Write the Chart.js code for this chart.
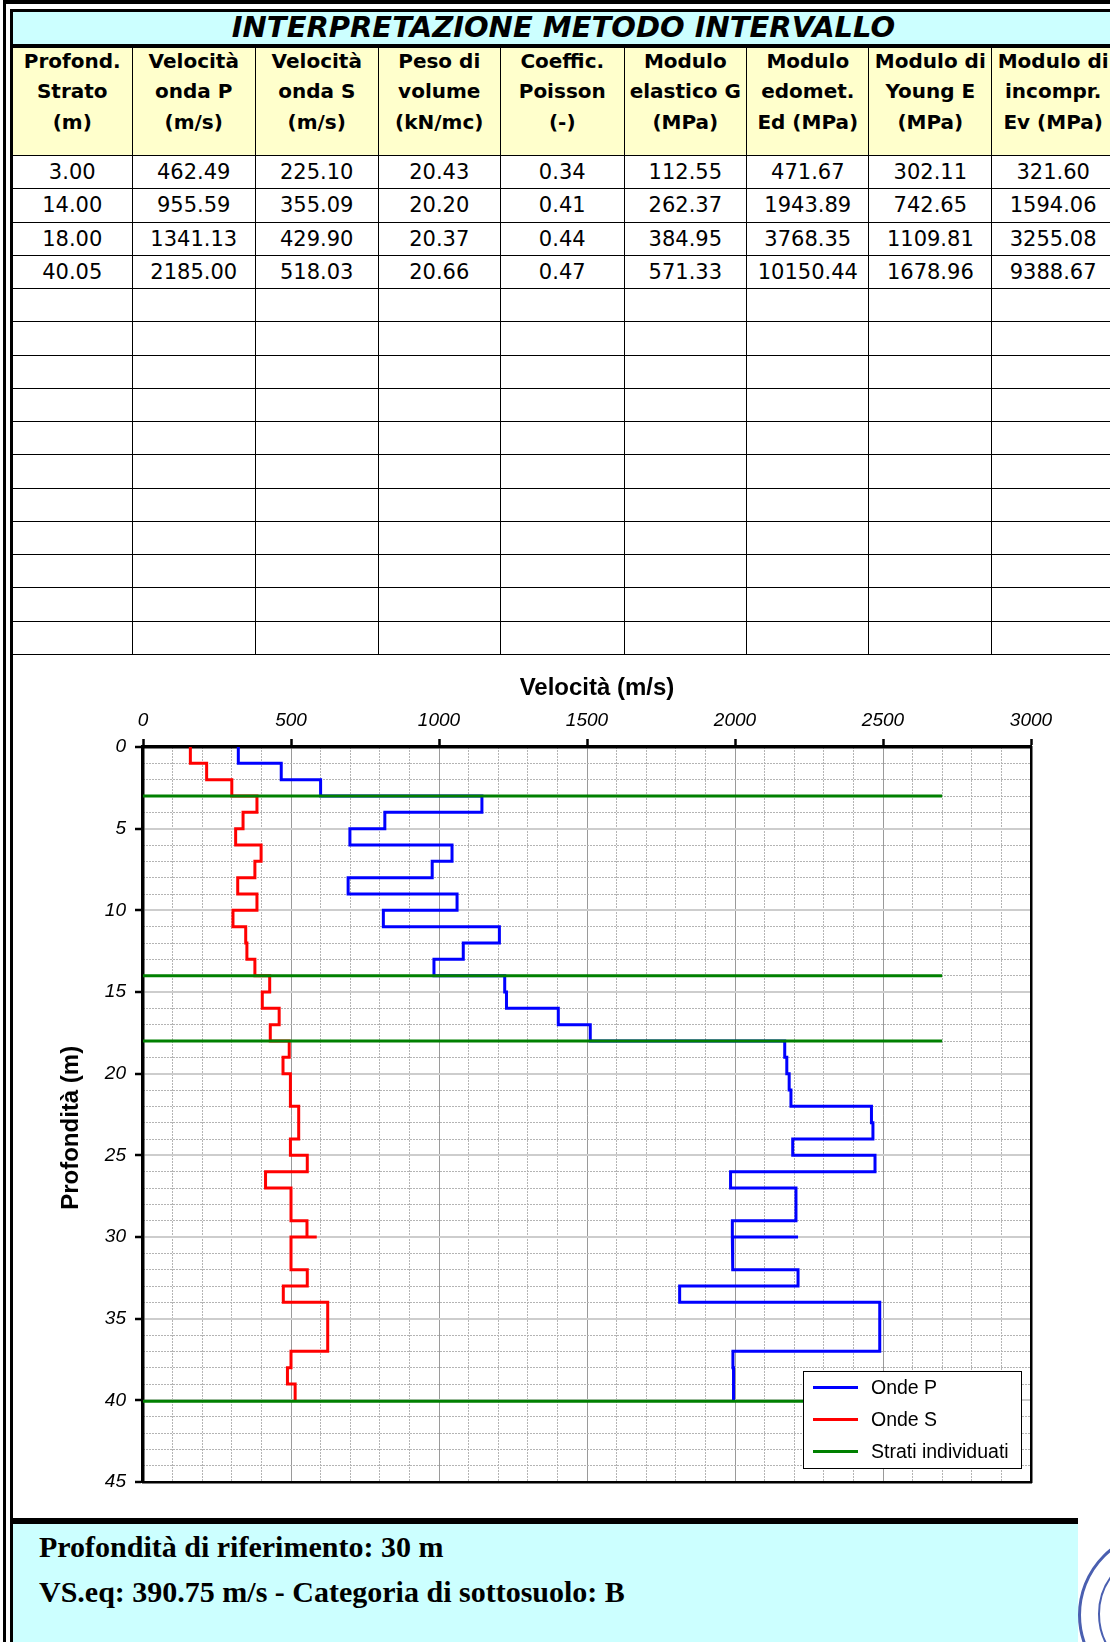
<!DOCTYPE html>
<html>
<head>
<meta charset="utf-8">
<script src="https://cdn.jsdelivr.net/npm/chart.js@4.4.1/dist/chart.umd.min.js"></script>
<style>
html, body { margin: 0; padding: 0; background: #fff; }
body { width: 1110px; height: 1642px; overflow: hidden; position: relative; font-family: "DejaVu Sans", Verdana, sans-serif; }
.frame1 { position: absolute; left: 3px; top: 0; width: 1300px; height: 1800px; border-left: 3px solid #000; border-top: 4px solid #000; }
.frame2 { position: absolute; left: 10px; top: 9px; width: 1300px; height: 1800px; border-left: 3px solid #000; border-top: 3px solid #000; }
#title { position: absolute; left: 13px; top: 12px; width: 1101px; height: 32px; background: #ccffff; border-bottom: 4px solid #000;
  text-align: center; font: italic bold 29px "DejaVu Sans"; line-height: 30px; }
#tab { position: absolute; left: 13px; top: 48px; border-collapse: collapse; table-layout: fixed; }
#tab th, #tab td { border: 1.5px solid #000; padding: 0; text-align: center; white-space: nowrap; overflow: hidden; }
#tab th { background: #ffffcc; font: bold 20px/30.4px "DejaVu Sans"; height: 107px; vertical-align: top; border-top: none; }
#tab th div { position: relative; top: -2px; }
#tab td { font: 21px "DejaVu Sans"; height: 32.25px; }
#tab th:first-child, #tab td:first-child { border-left: none; }
#chartBox { position: absolute; left: 13px; top: 656px; width: 1097px; height: 862px; }
#band { position: absolute; left: 13px; top: 1518px; width: 1065px; height: 6px; background: #000; }
#info { position: absolute; left: 13px; top: 1524px; width: 1065px; height: 130px; background: #ccffff;
  font: bold 30px/45px "Liberation Serif", serif; padding-left: 26px; box-sizing: border-box; }
.stamp { position: absolute; border-radius: 50%; border: 3px solid #4a5fb0; }
</style>
</head>
<body>
<div class="frame1"></div>
<div class="frame2"></div>
<div id="title">INTERPRETAZIONE METODO INTERVALLO</div>
<table id="tab"></table>
<div id="chartBox"><canvas id="chart" width="1097" height="862"></canvas></div>
<div id="band"></div>
<div id="info">Profondità di riferimento: 30 m<br>VS.eq: 390.75 m/s - Categoria di sottosuolo: B</div>
<div class="stamp" style="left:1078px;top:1530px;width:164px;height:164px;"></div>
<div class="stamp" style="left:1098px;top:1550px;width:124px;height:124px;border-width:2px;"></div>
<script>
// tabella strati
const headers = [
  ['Profond.', 'Strato', '(m)'],
  ['Velocità', 'onda P', '(m/s)'],
  ['Velocità', 'onda S', '(m/s)'],
  ['Peso di', 'volume', '(kN/mc)'],
  ['Coeffic.', 'Poisson', '(-)'],
  ['Modulo', 'elastico G', '(MPa)'],
  ['Modulo', 'edomet.', 'Ed (MPa)'],
  ['Modulo di', 'Young E', '(MPa)'],
  ['Modulo di', 'incompr.', 'Ev (MPa)']
];
const layerDepth = [3.00, 14.00, 18.00, 40.05];
const vpLayer = [462.49, 955.59, 1341.13, 2185.00];
const vsLayer = [225.10, 355.09, 429.90, 518.03];
const unitWeight = [20.43, 20.20, 20.37, 20.66];
const poisson = [0.34, 0.41, 0.44, 0.47];
const modG = [112.55, 262.37, 384.95, 571.33];
const modEd = [471.67, 1943.89, 3768.35, 10150.44];
const modE = [302.11, 742.65, 1109.81, 1678.96];
const modEv = [321.60, 1594.06, 3255.08, 9388.67];
const emptyRows = 11;
const colWidths = [119, 123.5, 122.5, 122.5, 123.5, 122.6, 122.4, 122.7, 123];

// profilo velocità (passo 1 m, con lo strato nullo a 30 m)
const depthBounds = [0, 1, 2, 3, 4, 5, 6, 7, 8, 9, 10, 11, 12, 13, 14, 15, 16, 17, 18, 19, 20,
  21, 22, 23, 24, 25, 26, 27, 28, 29, 30, 30, 31, 32, 33, 34, 35, 36, 37, 38, 39, 40];
const vpProfile = [322, 467, 600, 1145, 817, 699, 1044, 977, 693, 1061,
  812, 1204, 1082, 983, 1222, 1228, 1403, 1511, 2168, 2175,
  2183, 2189, 2461, 2466, 2195, 2473, 1985, 2206, 2206, 1991,
  2213, 1991, 1993, 2213, 1813, 2489, 2489, 2489, 1993, 1995, 1995];
const vsProfile = [160, 215, 300, 385, 338, 313, 399, 378, 320, 385,
  304, 347, 351, 378, 428, 403, 460, 430, 494, 473,
  498, 498, 526, 526, 498, 555, 414, 500, 500, 554,
  587, 500, 500, 555, 474, 624, 624, 624, 500, 488, 514];
const strataLineEnd = 2700;
const xTicks = { min: 0, max: 3000, major: 500, minor: 100 };
const yTicks = { min: 0, max: 45, major: 5, minor: 1 };

// build table
const tab = document.getElementById('tab');
tab.style.width = colWidths.reduce((a, b) => a + b, 0) + 'px';
let html = '<colgroup>' + colWidths.map(w => '<col style="width:' + w + 'px">').join('') + '</colgroup>';
html += '<tr>' + headers.map(h => '<th><div>' + h.join('<br>') + '</div></th>').join('') + '</tr>';
layerDepth.forEach((d, i) => {
  const row = [d, vpLayer[i], vsLayer[i], unitWeight[i], poisson[i], modG[i], modEd[i], modE[i], modEv[i]];
  html += '<tr>' + row.map(v => '<td>' + v.toFixed(2) + '</td>').join('') + '</tr>';
});
for (let r = 0; r < emptyRows; r++) {
  html += '<tr>' + colWidths.map(() => '<td></td>').join('') + '</tr>';
}
tab.innerHTML = html;

// step lines
function steps(bounds, vals) {
  const pts = [];
  vals.forEach((v, i) => {
    pts.push({ x: v, y: bounds[i] }, { x: v, y: bounds[i + 1] });
  });
  return pts;
}
const strataPts = [];
layerDepth.forEach(d => {
  strataPts.push({ x: 0, y: d }, { x: strataLineEnd, y: d }, { x: null, y: null });
});

// legenda nel riquadro
const boxLegend = {
  id: 'boxLegend',
  afterDraw(chart) {
    const { ctx, chartArea: a } = chart;
    const w = 218, h = 97;
    const x0 = Math.round(a.right - 10 - w), y0 = Math.round(a.bottom - 14 - h);
    ctx.save();
    ctx.fillStyle = '#fff';
    ctx.fillRect(x0, y0, w, h);
    ctx.strokeStyle = '#000';
    ctx.lineWidth = 1;
    ctx.strokeRect(x0 + 0.5, y0 + 0.5, w, h);
    ctx.font = '19.5px "Liberation Sans", Arial, sans-serif';
    ctx.textBaseline = 'middle';
    chart.data.datasets.forEach((ds, i) => {
      const y = y0 + 16.5 + i * 32;
      ctx.strokeStyle = ds.borderColor;
      ctx.lineWidth = 3;
      ctx.beginPath();
      ctx.moveTo(x0 + 10, y);
      ctx.lineTo(x0 + 55, y);
      ctx.stroke();
      ctx.fillStyle = '#000';
      ctx.fillText(ds.label, x0 + 68, y + 1);
    });
    ctx.restore();
  }
};

const tickFont = { family: "'Liberation Sans', Arial, sans-serif", size: 19, style: 'italic' };
const titleFont = { family: "'Liberation Sans', Arial, sans-serif", size: 24, weight: 'bold' };

new Chart(document.getElementById('chart'), {
  type: 'scatter',
  data: {
    datasets: [{
      label: 'Onde P',
      data: steps(depthBounds, vpProfile),
      borderColor: '#0000ff',
      borderWidth: 3,
      order: 2
    }, {
      label: 'Onde S',
      data: steps(depthBounds, vsProfile),
      borderColor: '#ff0000',
      borderWidth: 3,
      order: 3
    }, {
      label: 'Strati individuati',
      data: strataPts,
      borderColor: '#008000',
      borderWidth: 3,
      order: 1
    }]
  },
  options: {
    responsive: false,
    animation: false,
    devicePixelRatio: 1,
    showLine: true,
    elements: { point: { radius: 0, hoverRadius: 0 }, line: { tension: 0, borderJoinStyle: 'miter' } },
    layout: { padding: { left: 0, top: 0, right: 79, bottom: 36 } },
    plugins: { legend: { display: false }, tooltip: { enabled: false } },
    scales: {
      x: {
        type: 'linear', position: 'top', min: xTicks.min, max: xTicks.max,
        ticks: { stepSize: xTicks.major, font: tickFont, color: '#000', padding: 7, callback: v => String(v) },
        grid: { color: '#9a9a9a', lineWidth: 1, tickLength: 8, tickColor: '#000', tickWidth: 2.5 },
        border: { color: '#000', width: 3.5 },
        title: { display: true, text: '   Velocità (m/s)', font: titleFont, color: '#000', padding: { top: 18, bottom: 0 } },
        afterFit: s => { s.height = 91; }
      },
      x2: {
        type: 'linear', position: 'bottom', min: xTicks.min, max: xTicks.max,
        ticks: { stepSize: xTicks.minor, display: false },
        grid: {
          drawTicks: false, lineWidth: 1,
          color: c => (c.tick && Math.round(c.tick.value) % xTicks.major === 0) ? 'rgba(0,0,0,0)' : '#b4b4b4'
        },
        border: { color: '#000', width: 2.5, dash: [2, 1] },
        afterFit: s => { s.height = 0; }
      },
      y: {
        type: 'linear', position: 'left', reverse: true, min: yTicks.min, max: yTicks.max,
        ticks: { stepSize: yTicks.major, font: tickFont, color: '#000', padding: 9, callback: v => String(v) },
        grid: { color: '#cdcdcd', lineWidth: 2, tickLength: 8, tickColor: '#000', tickWidth: 2.5 },
        border: { color: '#000', width: 3.5 },
        title: { display: true, text: 'Profondità (m)    ', font: titleFont, color: '#000', padding: { top: 44, bottom: 0 } },
        afterFit: s => { s.width = 130; }
      },
      y2: {
        type: 'linear', position: 'right', reverse: true, min: yTicks.min, max: yTicks.max,
        ticks: { stepSize: yTicks.minor, display: false },
        grid: {
          drawTicks: false, lineWidth: 1,
          color: c => (c.tick && Math.round(c.tick.value) % yTicks.major === 0) ? 'rgba(0,0,0,0)' : '#b4b4b4'
        },
        border: { color: '#000', width: 2.5, dash: [2, 1] },
        afterFit: s => { s.width = 0; }
      }
    }
  },
  plugins: [boxLegend]
});
</script>
</body>
</html>
